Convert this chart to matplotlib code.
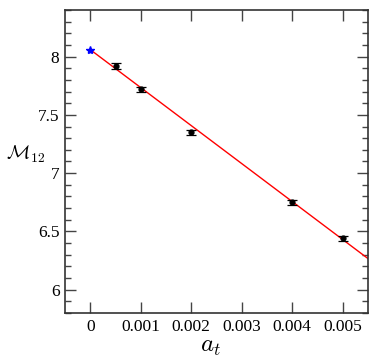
import matplotlib
matplotlib.use("Agg")
import matplotlib.pyplot as plt
import numpy as np
from matplotlib.ticker import MultipleLocator

plt.rcParams["font.family"] = ["Liberation Serif", "DejaVu Serif"]
plt.rcParams["mathtext.fontset"] = "cm"

# 数据
a_t = [0.0005, 0.001, 0.002, 0.004, 0.005]
m12 = [7.92, 7.72, 7.35, 6.75, 6.44]
m12_err = [0.025, 0.022, 0.022, 0.022, 0.02]
extrap_x = [0.0]
extrap_y = [8.06]
fit_intercept = 8.06
fit_slope = -326.0

fig = plt.figure(figsize=(3.82, 3.64), dpi=100)
ax = fig.add_axes([65 / 382, 51 / 364, 303 / 382, 303 / 364])

# 拟合直线
xs = np.array([0.0, 0.0055])
ax.plot(xs, fit_intercept + fit_slope * xs, color="red", lw=1.0, zorder=2)

# 数据点
ax.errorbar(a_t, m12, yerr=m12_err, fmt="o", color="black", ms=3.5,
            capsize=3.5, elinewidth=0.9, capthick=0.9, zorder=3)
ax.plot(extrap_x, extrap_y, marker="*", color="blue", ms=6, ls="none", zorder=4)

ax.set_xlim(-0.0005, 0.0055)
ax.set_ylim(5.8, 8.4)
ax.set_xticks([0, 0.001, 0.002, 0.003, 0.004, 0.005])
ax.set_xticklabels(["0", "0.001", "0.002", "0.003", "0.004", "0.005"])
ax.set_yticks([6, 6.5, 7, 7.5, 8])
ax.set_yticklabels(["6", "6.5", "7", "7.5", "8"])
ax.yaxis.set_minor_locator(MultipleLocator(0.1))

ax.tick_params(which="both", direction="in", top=True, right=True, labelsize=12.5, width=1.0, color="#444444")
ax.tick_params(which="major", length=8, pad=4)
ax.tick_params(which="minor", length=4)
for s in ax.spines.values():
    s.set_linewidth(1.2)
    s.set_color("#333333")

ax.set_xlabel(r"$a_t$", fontsize=18)
ax.xaxis.set_label_coords(0.48, -0.075)
ax.set_ylabel(r"$\mathcal{M}_{12}$", fontsize=14, rotation=0)
ax.yaxis.set_label_coords(-0.13, 0.49)

fig.savefig("out.png", dpi=100)
